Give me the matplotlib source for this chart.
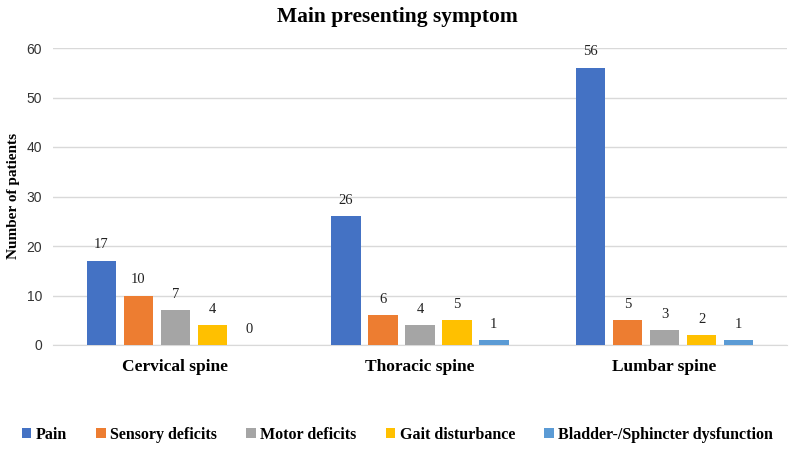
import matplotlib
matplotlib.use("Agg")
import matplotlib.pyplot as plt
import numpy as np

categories = ["Cervical spine", "Thoracic spine", "Lumbar spine"]
series_names = ["Pain", "Sensory deficits", "Motor deficits", "Gait disturbance",
                "Bladder-/Sphincter dysfunction"]
pain = [17, 26, 56]
sensory = [10, 6, 5]
motor = [7, 4, 3]
gait = [4, 5, 2]
bladder = [0, 1, 1]
colors = ["#4472C4", "#ED7D31", "#A5A5A5", "#FFC000", "#5B9BD5"]

series = [pain, sensory, motor, gait, bladder]

fig = plt.figure(figsize=(7.95, 4.5), dpi=100)
ax = fig.add_axes([53/795, 1-345/450, (787-53)/795, (345-48)/450])

x = np.arange(len(categories))
step = 0.151
width = 0.12
for i, (vals, name, c) in enumerate(zip(series, series_names, colors)):
    pos = x + (i - 2) * step
    ax.bar(pos, vals, width, color=c, label=name, zorder=3)
    for p, v in zip(pos, vals):
        ax.text(p, v + 1.9, str(v), ha="center", va="bottom",
                fontfamily="Liberation Serif", fontsize=10.5, color="#222222")

ax.set_xlim(-0.5, 2.5)
ax.set_ylim(0, 60)
ax.set_yticks(range(0, 61, 10))
ax.grid(axis="y", color="#D9D9D9", linewidth=1, zorder=0)
for s in ["top", "right", "left"]:
    ax.spines[s].set_visible(False)
ax.spines["bottom"].set_color("#D9D9D9")
ax.tick_params(axis="both", length=0)
ax.tick_params(axis="y", labelsize=10, labelcolor="#333333", pad=8)
ax.set_xticks(x)
ax.set_xticklabels(categories, fontfamily="Liberation Serif", fontweight="bold", fontsize=12.5)
ax.tick_params(axis="x", pad=10)
for lab in ax.get_yticklabels():
    lab.set_fontfamily("Liberation Sans")

fig.text(14/795, 1-196/450, "Number of patients", rotation=90, ha="center", va="center",
         fontfamily="Liberation Serif", fontweight="bold", fontsize=11)
fig.text(0.5, 1-17/450, "Main presenting symptom", ha="center", va="center",
         fontfamily="Liberation Serif", fontweight="bold", fontsize=15.5)

fig.legend(loc="center", bbox_to_anchor=(0.5, 1-435/450), ncol=5, frameon=False,
           prop={"family": "Liberation Serif", "weight": "bold", "size": 11.5},
           handlelength=0.6, handleheight=0.6, handletextpad=0.3, columnspacing=1.8)

fig.savefig("out.png", dpi=100, facecolor="white")
